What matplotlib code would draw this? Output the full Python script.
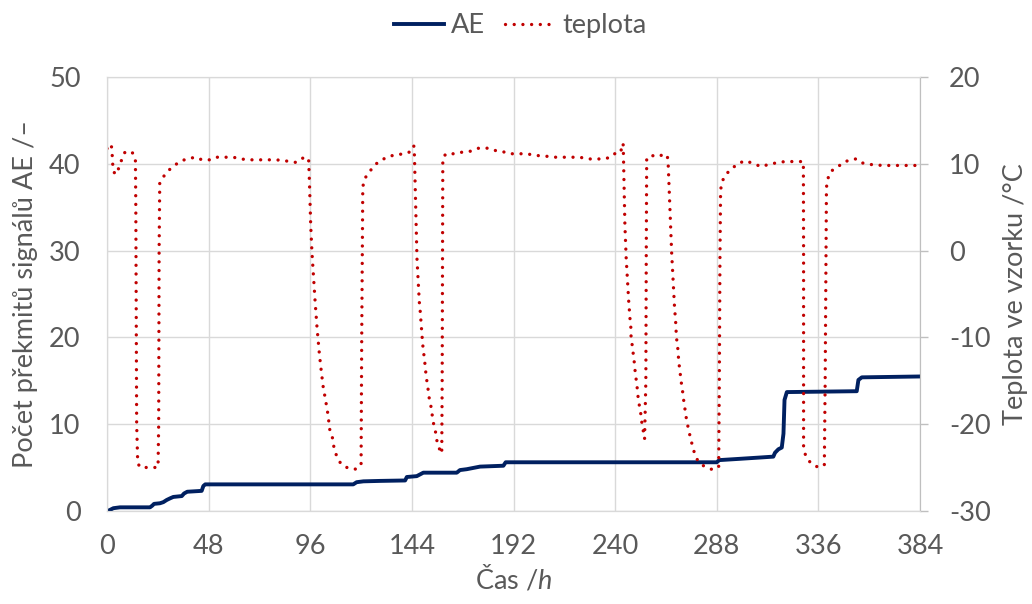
import matplotlib
matplotlib.use("Agg")
import matplotlib.pyplot as plt

plt.rcParams['font.family'] = ['Lato', 'DejaVu Sans']
plt.rcParams['mathtext.fontset'] = 'custom'
plt.rcParams['mathtext.it'] = 'Lato:italic'
plt.rcParams['mathtext.rm'] = 'Lato'
plt.rcParams['axes.unicode_minus'] = False

# AE count (left axis)
ae_hours = [0, 0.6, 3, 6.1, 20.3, 21.4, 22.2, 25, 26.6, 28.2, 29.8, 31.3, 35.3, 36.4,
            37.9, 44.7, 45.5, 46.4, 116.3, 117.9, 121.1, 129, 140.8, 141.6, 146.3,
            149.4, 165.2, 166.7, 169.9, 176.2, 187.2, 188.3, 288, 289.2, 299, 308.5,
            314.7, 315.5, 317.1, 318.7, 319.5, 320, 321.1, 354.1, 354.9, 356.5, 384]
ae_count = [0, 0, 0.3, 0.4, 0.4, 0.6, 0.8, 0.87, 1.0, 1.25, 1.44, 1.6, 1.7, 2.0,
            2.2, 2.3, 2.86, 3.05, 3.05, 3.3, 3.4, 3.45, 3.5, 3.9, 4.0,
            4.4, 4.4, 4.7, 4.8, 5.1, 5.2, 5.6, 5.6, 5.85, 6.0, 6.15,
            6.25, 6.7, 7.1, 7.3, 8.9, 12.8, 13.7, 13.8, 15.1, 15.4, 15.5]

# sample temperature (right axis)
temp_hours = [0, 2, 2.4, 2.6, 2.9, 3.9, 5.7, 6.9, 8.5, 11.8, 13.4, 13.6, 14.0, 14.5,
              15.7, 19.8, 24.1, 24.4, 24.6, 24.9, 26.8, 29.2, 31.8, 34.8, 38.3, 42.1,
              44.8, 48.7, 51.4, 55.5, 59.6, 63.4, 66.7, 70.8, 74.8, 79.0, 82.9, 86.1,
              89.4, 92.5, 95.2, 95.6, 96.2, 96.8, 98.3, 99.2, 100.3, 101.2, 102.2,
              103.0, 104.3, 105.3, 106.8, 107.2, 108.5, 110.5, 114.0, 117.9, 120.0,
              120.3, 120.6, 120.8, 121.9, 124.2, 126.9, 129.8, 133.2, 136.8, 140.8,
              143.9, 144.9, 145.2, 145.8, 146.4, 147.5, 147.9, 148.5, 149.1, 149.6,
              150.1, 150.5, 151.0, 151.6, 152.1, 152.9, 153.5, 154.1, 155.1, 155.7,
              156.7, 158.1, 158.3, 158.5, 158.6, 160.1, 164.4, 168.0, 171.9, 175.6,
              179.4, 182.5, 186.3, 189.9, 193.8, 197.9, 203, 208, 212, 216.3, 219.8,
              223.3, 227.1, 231.1, 235.1, 238.7, 240.9, 242.8, 243.1, 243.9, 243.9,
              244.1, 244.6, 245.2, 246.4, 246.7, 247.0, 247.4, 247.5, 248.0, 248.5,
              249.0, 249.4, 249.9, 250.4, 250.8, 251.4, 252.1, 252.6, 253.3, 253.9,
              254.5, 254.7, 254.9, 257.3, 260.1, 263.6, 264.9, 265.1, 266.0, 266.7,
              268.0, 268.3, 268.6, 268.8, 269.1, 269.6, 269.9, 270.3, 270.8, 271.3,
              271.9, 272.4, 273.0, 273.6, 274.4, 275.3, 276.2, 277.3, 278.8, 281.7,
              285.4, 288.9, 289.2, 289.5, 289.8, 290.5, 292.4, 295.2, 298.2, 301.7,
              303.7, 305.8, 309.3, 312.6, 316.3, 320.1, 324.0, 327.8, 328.9, 329.0,
              329.0, 330.0, 332.4, 336.0, 338.8, 339.2, 339.6, 339.8, 340.4, 342.0,
              345.0, 347.8, 351.0, 353.6, 355.7, 359.3, 363.1, 366.7, 370.7, 374.7,
              378.8, 382.5]
temp_values = [11.8, 12.3, 11.3, 10.3, 9.3, 8.8, 9.6, 10.5, 11.4, 11.4, 10.7, 5, -20, -24.5,
               -25, -25, -25, -20, 0, 7.8, 8.6, 9.3, 9.85, 10.35, 10.65, 10.8,
               10.5, 10.5, 10.8, 10.8, 10.8, 10.6, 10.5, 10.5, 10.5, 10.5, 10.45, 10.3,
               10.2, 10.7, 10.7, 8, 3, -0.2, -5.9, -8.9, -11.9, -13.9, -15.9,
               -16.9, -18.8, -20.8, -21.8, -22.8, -23.7, -24.6, -25.1, -25.2, -24.6,
               -10, 0, 7.4, 8.4, 9.2, 10.0, 10.5, 10.9, 11.1, 11.2,
               11.5, 12.1, 11.0, 5, -0.9, -5.9, -6.9, -8.9, -10.8, -11.8,
               -12.9, -13.9, -14.9, -15.9, -16.9, -17.8, -18.8, -19.8, -20.8, -21.8,
               -22.7, -23.4, -15, 5, 10.7, 11.2, 11.2, 11.4, 11.5, 11.85,
               11.85, 11.6, 11.5, 11.2, 11.2, 11.2, 11.0, 10.9, 10.8, 10.8, 10.8,
               10.8, 10.6, 10.6, 10.6, 10.9, 11.5, 11.5, 12.4, 12.2, 11.2,
               9, 3, -0.8, -5.8, -6.8, -7.8, -8.8, -9.8, -10.8, -11.8,
               -12.8, -13.8, -14.8, -15.8, -16.8, -17.8, -18.8, -19.8, -20.8, -21.7,
               -15, 0, 10.7, 11.0, 10.85, 11.2, 10.7, 9.7, 4, -0.3,
               -6.3, -7.3, -8.3, -9.3, -10.3, -11.3, -12.3, -13.3, -14.3, -15.3,
               -16.3, -17.3, -18.3, -19.3, -20.3, -21.3, -22.2, -23.2, -24.1, -24.8,
               -25.2, -25.0, -15, -1, 7, 8, 8.85, 9.5, 10.1, 10.4,
               10.2, 10.0, 9.7, 10.0, 10.15, 10.3, 10.3, 10.3, 10.3, 0,
               -22.6, -23.7, -24.5, -25, -24.7, -15, -0.7, 7.3, 8.3, 9.2,
               9.65, 10.2, 10.5, 10.6, 10.2, 10.0, 9.9, 9.85, 9.85, 9.85,
               9.85, 9.85]

x_ticks = [0, 48, 96, 144, 192, 240, 288, 336, 384]

text_col = '#595959'
grid_col = '#D9D9D9'
fs = 19.5

fig = plt.figure(figsize=(10.32, 6.04), dpi=100)
ax = fig.add_axes([0.1037, 0.1543, 0.7878, 0.7174])
ax2 = ax.twinx()

l1, = ax.plot(ae_hours, ae_count, color='#002060', lw=2.8, solid_joinstyle='round',
              label='AE', zorder=3)
l2, = ax2.plot(temp_hours, temp_values, color='#C00000', lw=2.4,
               linestyle=(0, (0.01, 2.6)), dash_capstyle='round', label='teplota')

ax.set_xlim(0, 384)
ax.set_ylim(0, 50)
ax2.set_ylim(-30, 20)
ax.set_xticks(x_ticks)
ax.set_yticks(range(0, 51, 10))
ax2.set_yticks(range(-30, 21, 10))

ax.grid(True, color=grid_col, lw=1.0)
ax.set_axisbelow(True)
for a in (ax, ax2):
    for s in a.spines.values():
        s.set_color(grid_col)
ax.tick_params(axis='y', length=0, labelsize=fs, colors=text_col, pad=19)
ax.tick_params(axis='x', length=0, labelsize=fs, colors=text_col, pad=17)
ax2.tick_params(length=6, width=1, color='#BFBFBF', labelsize=fs,
                labelcolor=text_col, pad=15)
ax.spines['bottom'].set_color('#BFBFBF')
ax2.spines['right'].set_color('#BFBFBF')

ax.set_xlabel('Čas /$h$', fontsize=fs, color=text_col, labelpad=3)
ax.set_ylabel('Počet překmitů signálů AE /–', fontsize=fs, color=text_col, labelpad=8)
ax2.set_ylabel('Teplota ve vzorku /°C', fontsize=fs, color=text_col, labelpad=9)

fig.legend(handles=[l1, l2], loc='center', bbox_to_anchor=(0.504, 0.957), ncol=2,
           frameon=False, fontsize=fs, labelcolor=text_col, handlelength=1.85,
           columnspacing=0.75, handletextpad=0.25, borderpad=0)

fig.savefig('out.png', dpi=100)
